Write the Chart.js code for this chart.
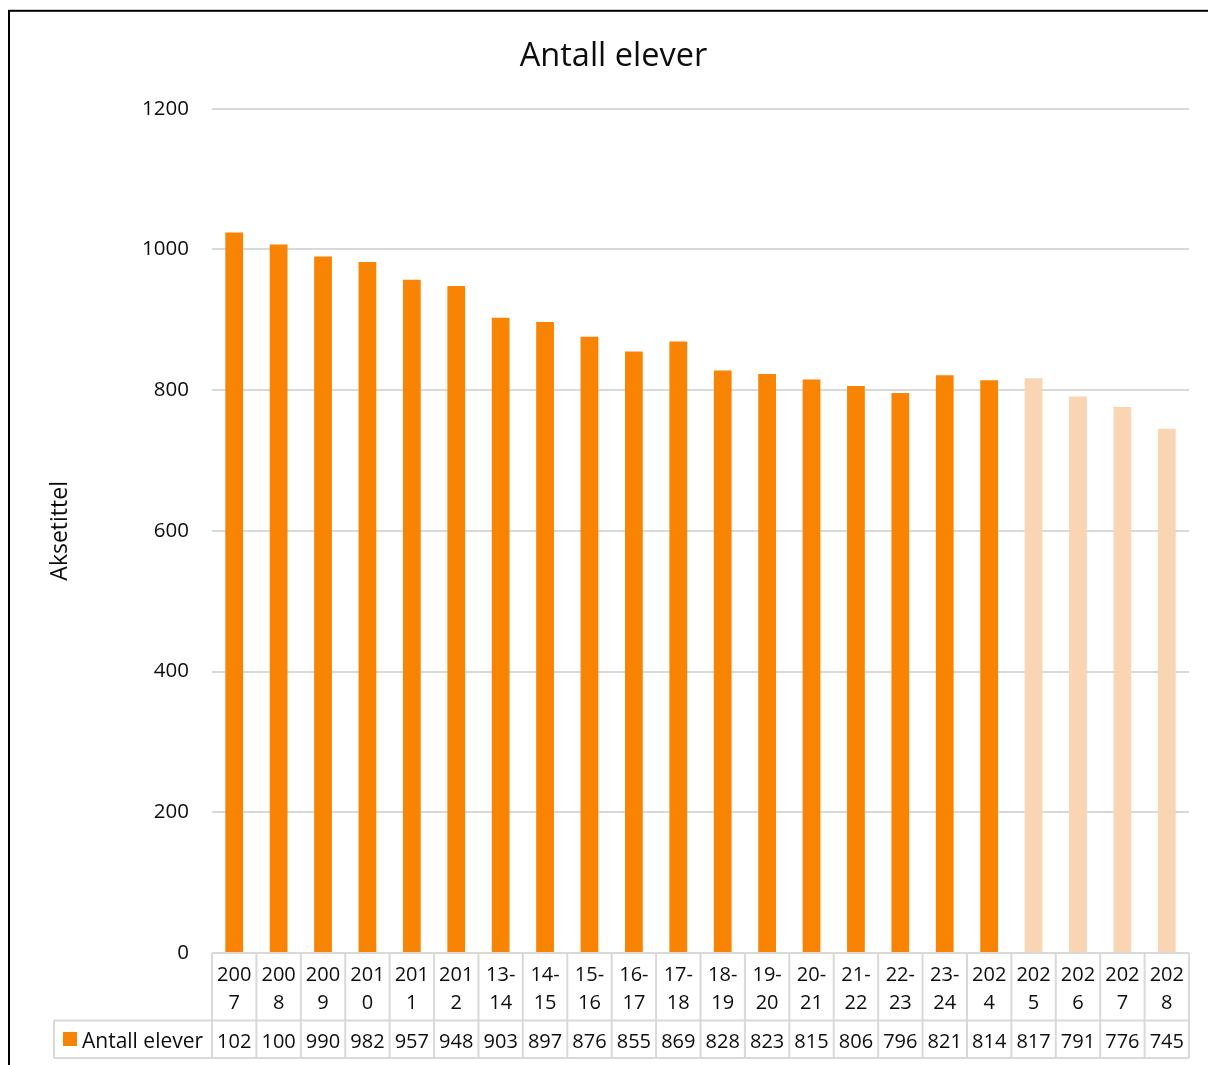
<!DOCTYPE html>
<html>
<head>
<meta charset="utf-8">
<script src="https://cdn.jsdelivr.net/npm/chart.js@4.4.0/dist/chart.umd.min.js"></script>
<style>
  html, body { margin: 0; padding: 0; background: #fff; overflow: hidden; }
  canvas { display: block; }
</style>
</head>
<body>
<canvas id="elevChart" width="1208" height="1065"></canvas>
<script>
const categories = ['2007', '2008', '2009', '2010', '2011', '2012', '13-14', '14-15', '15-16', '16-17', '17-18',
    '18-19', '19-20', '20-21', '21-22', '22-23', '23-24', '2024', '2025', '2026', '2027', '2028'];
const elever = [1024, 1007, 990, 982, 957, 948, 903, 897, 876, 855, 869, 828, 823, 815, 806, 796, 821, 814, 817, 791, 776, 745];
// last four years are projections (drawn lighter)
const prognose = [false, false, false, false, false, false, false, false, false, false, false,
    false, false, false, false, false, false, false, true, true, true, true];
const seriesName = 'Antall elever';

const FONT = "'Open Sans', sans-serif";
const ORANGE = '#F98404';
const ORANGE_LIGHT = '#FAD5B4';
const GRID = '#D9D9D9';
const TEXT = '#0d0d0d';

// cut text from the end until it fits, like the spreadsheet does in narrow cells
function fitText(ctx, text, maxW) {
    let t = String(text);
    while (t.length > 1 && ctx.measureText(t).width > maxW) t = t.slice(0, -1);
    return t;
}

function wrapLabel(ctx, text, maxW) {
    if (ctx.measureText(text).width <= maxW) return [text];
    const dash = text.indexOf('-');
    if (dash > 0) return [text.slice(0, dash + 1), text.slice(dash + 1)];
    const first = fitText(ctx, text, maxW);
    return [first, text.slice(first.length)];
}

const dataTable = {
    id: 'dataTable',
    afterDraw(chart) {
        const ctx = chart.ctx;
        const xs = chart.scales.x;
        const n = categories.length;
        const left = xs.left, right = xs.right;
        const w = (right - left) / n;
        const top = chart.chartArea.bottom;
        const rowMid = 1020.5, bottom = 1058, keyLeft = 54;

        ctx.save();
        // outer frame of the chart object
        ctx.strokeStyle = '#000';
        ctx.lineWidth = 2;
        ctx.strokeRect(9, 10.8, 1400, 1400);

        // table lines
        ctx.strokeStyle = GRID;
        ctx.lineWidth = 2;
        ctx.beginPath();
        ctx.moveTo(left, top); ctx.lineTo(right, top);
        ctx.moveTo(keyLeft, rowMid); ctx.lineTo(right, rowMid);
        ctx.moveTo(keyLeft, bottom); ctx.lineTo(right, bottom);
        ctx.moveTo(keyLeft, rowMid); ctx.lineTo(keyLeft, bottom);
        for (let i = 0; i <= n; i++) {
            const x = left + i * w;
            ctx.moveTo(x, top); ctx.lineTo(x, bottom);
        }
        ctx.stroke();

        // category labels and values
        ctx.fillStyle = TEXT;
        ctx.font = `20px ${FONT}`;
        ctx.textAlign = 'center';
        ctx.textBaseline = 'alphabetic';
        categories.forEach((cat, i) => {
            const cx = xs.getPixelForValue(i);
            const lines = wrapLabel(ctx, cat, w - 6);
            ctx.fillText(lines[0], cx, 981);
            if (lines[1]) ctx.fillText(lines[1], cx, 1009);
            ctx.fillText(fitText(ctx, elever[i], w - 6), cx, 1047.5);
        });

        // legend key
        ctx.fillStyle = ORANGE;
        ctx.fillRect(63, 1032, 14, 14);
        ctx.fillStyle = TEXT;
        ctx.font = `21px ${FONT}`;
        ctx.textAlign = 'left';
        ctx.fillText(seriesName, 82, 1047.5);
        ctx.restore();
    }
};

const ctx = document.getElementById('elevChart').getContext('2d');
new Chart(ctx, {
    type: 'bar',
    data: {
        labels: categories,
        datasets: [{
            label: seriesName,
            data: elever,
            backgroundColor: prognose.map(p => p ? ORANGE_LIGHT : ORANGE),
            borderWidth: 0,
            barPercentage: 0.4,
            categoryPercentage: 1.0
        }]
    },
    options: {
        responsive: false,
        devicePixelRatio: 1,
        animation: false,
        layout: { padding: { left: 38, right: 19, top: 0, bottom: 112 } },
        plugins: {
            legend: { display: false },
            tooltip: { enabled: false },
            title: {
                display: true,
                text: 'Antall elever',
                color: TEXT,
                font: { family: FONT, size: 32.5, weight: 'normal', lineHeight: 1.2 },
                padding: { top: 37, bottom: 32.7 }
            }
        },
        scales: {
            x: {
                display: false
            },
            y: {
                min: 0,
                max: 1200,
                afterFit: s => { s.width = 174; },
                ticks: {
                    stepSize: 200,
                    padding: 23,
                    color: TEXT,
                    font: { family: FONT, size: 20.5 },
                    callback: v => String(v)
                },
                grid: { color: GRID, lineWidth: 2, drawTicks: false },
                border: { display: false },
                title: {
                    display: true,
                    text: 'Aksetittel',
                    color: TEXT,
                    font: { family: FONT, size: 23, lineHeight: 1.2 },
                    padding: { top: 8.2, bottom: 0 }
                }
            }
        }
    },
    plugins: [dataTable]
});
</script>
</body>
</html>
